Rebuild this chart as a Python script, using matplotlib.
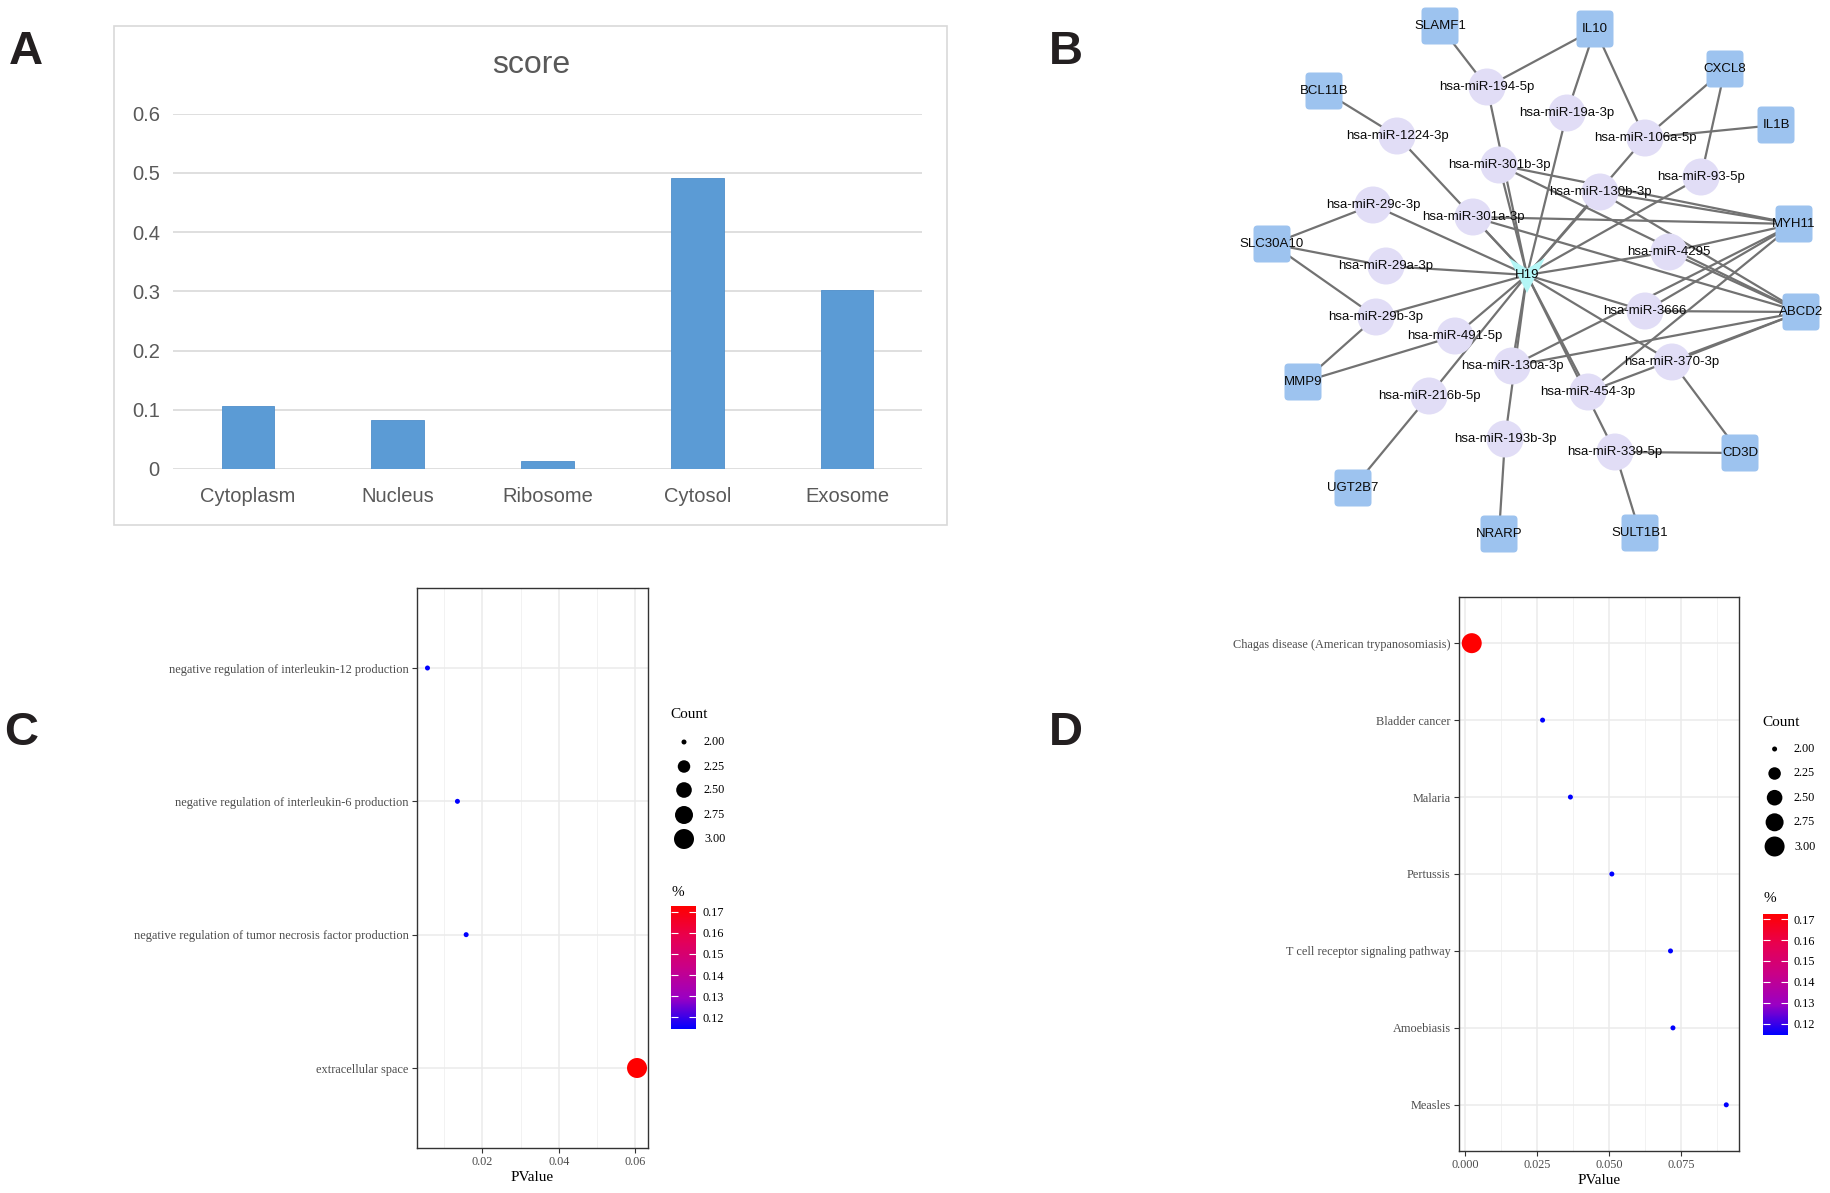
import matplotlib
matplotlib.use("Agg")
import matplotlib.pyplot as plt
import numpy as np
from matplotlib.patches import FancyBboxPatch, Circle, Polygon, Rectangle
from matplotlib.colors import LinearSegmentedColormap, Normalize
import matplotlib.cm as cm

plt.rcParams["font.family"] = ["Liberation Sans", "DejaVu Sans"]

W, H = 1830, 1193

# ---------------- Panel A data ----------------
loc_categories = ["Cytoplasm", "Nucleus", "Ribosome", "Cytosol", "Exosome"]
loc_scores = [0.107, 0.083, 0.0135, 0.491, 0.302]
score_ticks = [0, 0.1, 0.2, 0.3, 0.4, 0.5, 0.6]
score_tick_labels = ["0", "0.1", "0.2", "0.3", "0.4", "0.5", "0.6"]

# ---------------- Panel B data (network) ----------------
hub_name = "H19"
hub_pos = (1527, 275)
gene_names = ["SLAMF1", "IL10", "BCL11B", "CXCL8", "IL1B", "MYH11", "SLC30A10",
              "ABCD2", "MMP9", "CD3D", "UGT2B7", "NRARP", "SULT1B1"]
gene_x = [1440, 1595, 1324, 1725, 1776, 1794, 1272, 1801, 1303, 1740, 1353, 1499, 1640]
gene_y = [26, 29, 91, 69, 125, 224, 244, 312, 382, 453, 488, 534, 533]
mirna_names = ["hsa-miR-194-5p", "hsa-miR-19a-3p", "hsa-miR-1224-3p", "hsa-miR-106a-5p",
               "hsa-miR-301b-3p", "hsa-miR-93-5p", "hsa-miR-130b-3p", "hsa-miR-29c-3p",
               "hsa-miR-301a-3p", "hsa-miR-4295", "hsa-miR-29a-3p", "hsa-miR-3666",
               "hsa-miR-29b-3p", "hsa-miR-491-5p", "hsa-miR-130a-3p", "hsa-miR-370-3p",
               "hsa-miR-454-3p", "hsa-miR-216b-5p", "hsa-miR-193b-3p", "hsa-miR-339-5p"]
mirna_x = [1487, 1567, 1397, 1645, 1499, 1701, 1600, 1373, 1473, 1669, 1386, 1645,
           1376, 1455, 1512, 1672, 1588, 1429, 1505, 1615]
mirna_y = [87, 113, 136, 138, 165, 177, 192, 205, 217, 252, 266, 311,
           317, 336, 366, 362, 392, 396, 439, 452]
gene_edges = [
    ("SLAMF1", "hsa-miR-194-5p"), ("IL10", "hsa-miR-194-5p"), ("IL10", "hsa-miR-19a-3p"),
    ("IL10", "hsa-miR-106a-5p"), ("BCL11B", "hsa-miR-1224-3p"), ("CXCL8", "hsa-miR-106a-5p"),
    ("CXCL8", "hsa-miR-93-5p"), ("IL1B", "hsa-miR-106a-5p"),
    ("MYH11", "hsa-miR-301b-3p"), ("MYH11", "hsa-miR-130b-3p"), ("MYH11", "hsa-miR-301a-3p"),
    ("MYH11", "hsa-miR-4295"), ("MYH11", "hsa-miR-3666"), ("MYH11", "hsa-miR-130a-3p"),
    ("MYH11", "hsa-miR-454-3p"),
    ("ABCD2", "hsa-miR-301b-3p"), ("ABCD2", "hsa-miR-301a-3p"), ("ABCD2", "hsa-miR-130b-3p"),
    ("ABCD2", "hsa-miR-4295"), ("ABCD2", "hsa-miR-3666"), ("ABCD2", "hsa-miR-130a-3p"),
    ("ABCD2", "hsa-miR-370-3p"), ("ABCD2", "hsa-miR-454-3p"),
    ("SLC30A10", "hsa-miR-29c-3p"), ("SLC30A10", "hsa-miR-29a-3p"), ("SLC30A10", "hsa-miR-29b-3p"),
    ("MMP9", "hsa-miR-29b-3p"), ("MMP9", "hsa-miR-491-5p"), ("UGT2B7", "hsa-miR-216b-5p"),
    ("NRARP", "hsa-miR-193b-3p"), ("SULT1B1", "hsa-miR-339-5p"), ("CD3D", "hsa-miR-339-5p"),
    ("CD3D", "hsa-miR-370-3p"),
]

# ---------------- Panel C data ----------------
go_terms = ["negative regulation of interleukin-12 production",
            "negative regulation of interleukin-6 production",
            "negative regulation of tumor necrosis factor production",
            "extracellular space"]
go_pvalue = [0.00565, 0.01348, 0.01576, 0.06043]
go_count = [2, 2, 2, 3]
go_percent = [0.1145, 0.1145, 0.1145, 0.1727]
go_xticks = [0.02, 0.04, 0.06]
go_xticklabels = ["0.02", "0.04", "0.06"]

# ---------------- Panel D data ----------------
kegg_terms = ["Chagas disease (American trypanosomiasis)", "Bladder cancer", "Malaria",
              "Pertussis", "T cell receptor signaling pathway", "Amoebiasis", "Measles"]
kegg_pvalue = [0.00238, 0.02696, 0.03662, 0.0510, 0.07135, 0.0722, 0.0907]
kegg_count = [3, 2, 2, 2, 2, 2, 2]
kegg_percent = [0.1727, 0.1145, 0.1145, 0.1145, 0.1145, 0.1145, 0.1145]
kegg_xticks = [0.0, 0.025, 0.05, 0.075]
kegg_xticklabels = ["0.000", "0.025", "0.050", "0.075"]

count_legend = [2.00, 2.25, 2.50, 2.75, 3.00]
count_legend_labels = ["2.00", "2.25", "2.50", "2.75", "3.00"]
percent_ticks = [0.12, 0.13, 0.14, 0.15, 0.16, 0.17]
percent_ticklabels = ["0.12", "0.13", "0.14", "0.15", "0.16", "0.17"]
percent_limits = (0.1145, 0.1727)

# ---------------- helpers ----------------
fig = plt.figure(figsize=(W / 100, H / 100), dpi=100)


def rect(x0, y0, x1, y1):
    return [x0 / W, 1 - y1 / H, (x1 - x0) / W, (y1 - y0) / H]


def dot_size(c):
    r = np.clip((np.asarray(c, float) - 2.0) / 1.0, 0, 1)
    d_px = 3.0 * (1 + 5 * np.sqrt(r)) + 2.0
    return (d_px * 0.72) ** 2


cmap = LinearSegmentedColormap.from_list(
    "bluered", [(0, (0, 0, 1)), (0.25, (154 / 255, 0, 195 / 255)), (0.5, (201 / 255, 0, 136 / 255)),
                (0.75, (232 / 255, 0, 80 / 255)), (1, (1, 0, 0))])
norm = Normalize(vmin=percent_limits[0], vmax=percent_limits[1])

# overlay axes in pixel coords
ov = fig.add_axes([0, 0, 1, 1], zorder=0)
ov.set_xlim(0, W)
ov.set_ylim(H, 0)
ov.axis("off")

# panel letters
for lab, (x, y) in zip(["A", "B", "C", "D"], [(26, 52), (1066, 52), (21, 733), (1066, 733)]):
    ov.text(x, y, lab, fontsize=34, fontweight="bold", color="#231f20", ha="center", va="center")

# ---------------- Panel A ----------------
ov.add_patch(Rectangle((114, 26), 833, 499, fill=False, ec="#D9D9D9", lw=1.2))
ov.text(531, 65, "score", fontsize=23, color="#595959", ha="center", va="center")
axA = fig.add_axes(rect(173, 113.7, 922, 469), zorder=1)
axA.bar(range(len(loc_categories)), loc_scores, width=0.35, color="#5B9BD5",
        edgecolor="#4F8FCB", lw=0.6, zorder=3)
axA.set_xlim(-0.5, len(loc_categories) - 0.5)
axA.set_ylim(0, 0.6)
axA.set_yticks(score_ticks)
axA.set_yticklabels(score_tick_labels)
axA.set_xticks(range(len(loc_categories)))
axA.set_xticklabels(loc_categories)
axA.yaxis.grid(True, color="#D9D9D9", lw=1.2)
axA.set_axisbelow(True)
for s in axA.spines.values():
    s.set_visible(False)
axA.tick_params(axis="both", length=0, labelsize=14.5, labelcolor="#595959")
axA.tick_params(axis="y", pad=9.5)
axA.tick_params(axis="x", pad=13)
axA.patch.set_alpha(0)

# ---------------- Panel B ----------------
gpos = {n: (x, y) for n, x, y in zip(gene_names, gene_x, gene_y)}
mpos = {n: (x, y) for n, x, y in zip(mirna_names, mirna_x, mirna_y)}
edge_kw = dict(color="#727272", lw=1.6, zorder=1, solid_capstyle="round")
for m in mirna_names:
    ov.plot([hub_pos[0], mpos[m][0]], [hub_pos[1], mpos[m][1]], **edge_kw)
for g, m in gene_edges:
    ov.plot([gpos[g][0], mpos[m][0]], [gpos[g][1], mpos[m][1]], **edge_kw)

for m in mirna_names:
    x, y = mpos[m]
    ov.add_patch(Circle((x, y), 18.5, fc="#E1DDF6", ec="none", zorder=2))
side = 37
rr = 4
for g in gene_names:
    x, y = gpos[g]
    ov.add_patch(FancyBboxPatch((x - side / 2 + rr, y - side / 2 + rr), side - 2 * rr, side - 2 * rr,
                                boxstyle=f"round,pad={rr}", fc="#9DC3EF", ec="none", zorder=2))
hx, hy = hub_pos
ov.add_patch(Polygon([(hx - 18, hy - 17), (hx, hy - 6), (hx + 18, hy - 17), (hx, hy + 18)],
                     closed=True, fc="#B4F6F6", ec="none", zorder=2))
for m in mirna_names:
    ov.text(mpos[m][0], mpos[m][1], m, fontsize=9.5, ha="center", va="center", zorder=4, color="#0A0A0A")
for g in gene_names:
    ov.text(gpos[g][0], gpos[g][1], g, fontsize=9.5, ha="center", va="center", zorder=4, color="#0A0A0A")
ov.text(hx, hy, hub_name, fontsize=9.5, ha="center", va="center", zorder=4, color="#0A0A0A")


# ---------------- Panels C & D ----------------
def dotplot(box, terms, pv, cnt, pct, xticks, xticklabels, ylab_size):
    ax = fig.add_axes(rect(*box), zorder=1)
    n = len(terms)
    idx = np.arange(n)
    lo, hi = min(pv), max(pv)
    r = hi - lo
    xlo, xhi = lo - 0.05 * r, hi + 0.05 * r
    step = xticks[1] - xticks[0]
    minor = np.arange(xticks[0] - step / 2, xhi + step, step)
    ax.set_xticks(minor, minor=True)
    ax.set_xticks(xticks)
    ax.set_xticklabels(xticklabels, fontfamily="Liberation Serif", fontsize=8.8, color="#4D4D4D")
    ax.set_yticks(idx)
    ax.set_yticklabels(terms, fontfamily="Liberation Serif", fontsize=ylab_size, color="#4D4D4D")
    ax.grid(True, which="major", color="#EBEBEB", lw=1.1)
    ax.grid(True, which="minor", axis="x", color="#F0F0F0", lw=0.6)
    ax.set_axisbelow(True)
    ax.tick_params(which="minor", length=0)
    ax.tick_params(which="major", length=3.8, width=0.8, color="#333333", pad=2.2)
    for s in ax.spines.values():
        s.set_color("#333333")
        s.set_linewidth(1.0)
    ax.scatter(pv, idx, s=dot_size(cnt), c=pct, cmap=cmap, norm=norm, linewidths=0, zorder=3)
    ax.set_xlabel("PValue", fontfamily="Liberation Serif", fontsize=11, color="black", labelpad=2)
    ax.set_xlim(xlo, xhi)
    ax.set_ylim(n - 1 + 0.6, -0.6)
    return ax


axC = dotplot((417, 588, 647.5, 1148), go_terms, go_pvalue, go_count, go_percent,
              go_xticks, go_xticklabels, 8.9)
axD = dotplot((1459, 597, 1739, 1151), kegg_terms, kegg_pvalue, kegg_count, kegg_percent,
              kegg_xticks, kegg_xticklabels, 8.8)


def legends(count_xy, dot_x, rows, lab_x, pct_xy, cbar_box):
    ov.text(count_xy[0], count_xy[1], "Count", fontfamily="Liberation Serif", fontsize=11,
            ha="left", va="center", color="black")
    ov.scatter([dot_x] * len(count_legend), rows, s=dot_size(count_legend), c="black",
               linewidths=0, zorder=3)
    for yy, t in zip(rows, count_legend_labels):
        ov.text(lab_x, yy, t, fontfamily="Liberation Serif", fontsize=8.8, ha="left",
                va="center", color="black")
    ov.text(pct_xy[0], pct_xy[1], "%", fontfamily="Liberation Serif", fontsize=11,
            ha="left", va="center", color="black")
    cax = fig.add_axes(rect(*cbar_box), zorder=1)
    cb = fig.colorbar(cm.ScalarMappable(norm=norm, cmap=cmap), cax=cax)
    cb.outline.set_visible(False)
    cb.set_ticks(percent_ticks)
    cb.set_ticklabels(percent_ticklabels)
    cax.tick_params(direction="in", length=5, width=0.8, color="white", left=True, right=True,
                    labelleft=False, labelright=True, pad=4.5, labelsize=8.8, labelcolor="black")
    for t in cax.get_yticklabels():
        t.set_fontfamily("Liberation Serif")


legends((670, 715), 684, [742, 766.5, 790, 815, 839], 704, (671, 892), (671, 906, 696.5, 1029))
legends((1762, 722), 1774.6, [749, 773.5, 797.7, 822.3, 846.5], 1794, (1763, 898),
        (1762.5, 913.5, 1787.5, 1035))

fig.savefig("out.png", dpi=100, facecolor="white")
